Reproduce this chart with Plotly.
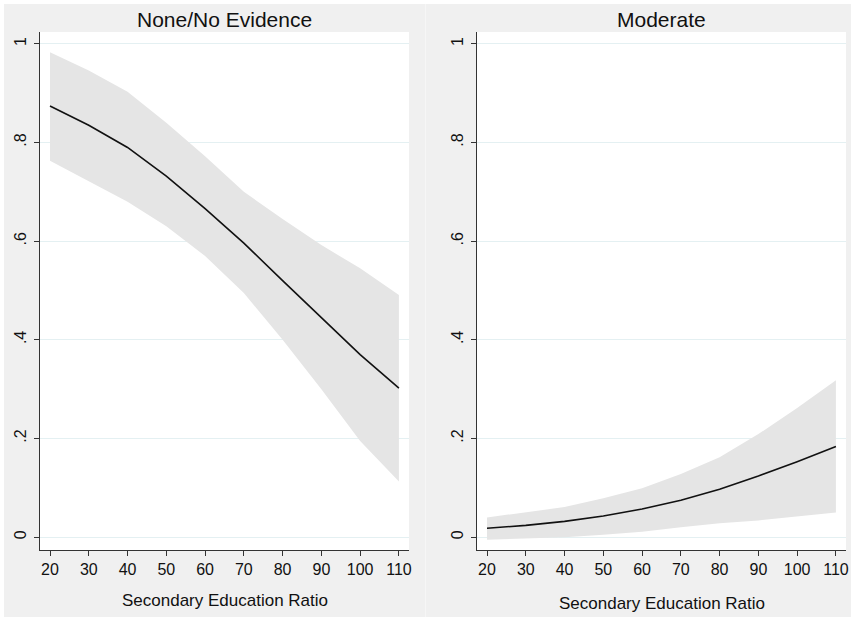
import plotly.graph_objects as go

x_vals = [20, 30, 40, 50, 60, 70, 80, 90, 100, 110]

none_mean = [0.874, 0.835, 0.790, 0.732, 0.666, 0.596, 0.520, 0.444, 0.370, 0.302]
none_upper = [0.983, 0.946, 0.903, 0.840, 0.772, 0.700, 0.645, 0.592, 0.545, 0.491]
none_lower = [0.763, 0.722, 0.680, 0.630, 0.570, 0.495, 0.400, 0.300, 0.195, 0.113]

mod_mean = [0.018, 0.024, 0.032, 0.043, 0.057, 0.075, 0.097, 0.124, 0.153, 0.184]
mod_upper = [0.040, 0.050, 0.061, 0.079, 0.099, 0.128, 0.162, 0.209, 0.262, 0.318]
mod_lower = [-0.005, -0.003, 0.000, 0.005, 0.011, 0.020, 0.028, 0.034, 0.042, 0.050]

panel_titles = ["None/No Evidence", "Moderate"]
x_title = "Secondary Education Ratio"
y_tickvals = [0, 0.2, 0.4, 0.6, 0.8, 1]
y_ticktext = ["0", ".2", ".4", ".6", ".8", "1"]
x_tickvals = [20, 30, 40, 50, 60, 70, 80, 90, 100, 110]

W, H = 851, 618
FONT = "Liberation Sans, Arial, Helvetica, sans-serif"
BAND = "#E5E5E5"
BG = "#F0F0F0"

fig = go.Figure()

for i, (m, u, l) in enumerate([(none_mean, none_upper, none_lower),
                                (mod_mean, mod_upper, mod_lower)]):
    xa = "x" if i == 0 else "x2"
    ya = "y" if i == 0 else "y2"
    fig.add_trace(go.Scatter(x=x_vals, y=u, mode="lines", line=dict(width=0, color=BAND),
                             xaxis=xa, yaxis=ya, showlegend=False, hoverinfo="skip"))
    fig.add_trace(go.Scatter(x=x_vals, y=l, mode="lines", line=dict(width=0, color=BAND),
                             fill="tonexty", fillcolor=BAND,
                             xaxis=xa, yaxis=ya, showlegend=False, hoverinfo="skip"))
    fig.add_trace(go.Scatter(x=x_vals, y=m, mode="lines", line=dict(width=1.6, color="#111111"),
                             xaxis=xa, yaxis=ya, showlegend=False))

def px_x(p):
    return p / W

def px_y(p):
    return 1 - p / H

xdoms = [[px_x(40), px_x(409)], [px_x(477), px_x(846)]]
ydom = [px_y(550), px_y(32)]

common_x = dict(
    range=[17.42, 112.6], tickvals=x_tickvals, ticks="outside", ticklen=5,
    tickcolor="#333333", tickwidth=1, showline=True, linecolor="#333333", linewidth=1,
    showgrid=False, zeroline=False, tickfont=dict(family=FONT, size=16, color="#111111"),
    automargin=False, fixedrange=True,
)
common_y = dict(
    range=[-0.026, 1.024], tickvals=y_tickvals, ticktext=y_ticktext, ticks="outside",
    ticklen=5, tickcolor="#333333", tickwidth=1, showline=True, linecolor="#333333",
    linewidth=1, showgrid=True, gridcolor="#E4F0F2", gridwidth=1, zeroline=False,
    tickangle=-90, tickfont=dict(family=FONT, size=16, color="#111111"),
    ticklabelstandoff=2, automargin=False, fixedrange=True,
)

fig.update_layout(
    width=W, height=H,
    margin=dict(l=0, r=0, t=0, b=0),
    paper_bgcolor=BG, plot_bgcolor="white",
    xaxis=dict(domain=xdoms[0], anchor="y", **common_x),
    yaxis=dict(domain=ydom, anchor="x", **common_y),
    xaxis2=dict(domain=xdoms[1], anchor="y2", **common_x),
    yaxis2=dict(domain=ydom, anchor="x2", **common_y),
    showlegend=False,
)

# thin white frame at top/left/bottom, and faint separator between the panels
for (x0, x1, y0, y1) in [(0, W, 0, 4), (0, 4, 0, H), (0, W, 617, H)]:
    fig.add_shape(type="rect", xref="paper", yref="paper", layer="below",
                  x0=px_x(x0), x1=px_x(x1), y0=px_y(y1), y1=px_y(y0),
                  fillcolor="white", line=dict(width=0))
fig.add_shape(type="line", xref="paper", yref="paper", layer="below",
              x0=px_x(425.5), x1=px_x(425.5), y0=px_y(617), y1=px_y(4),
              line=dict(color="#F6F6F6", width=1))

for i, t in enumerate(panel_titles):
    cx = (xdoms[i][0] + xdoms[i][1]) / 2
    fig.add_annotation(text=t, x=cx, y=px_y(19), xref="paper", yref="paper",
                       showarrow=False, xanchor="center", yanchor="middle",
                       font=dict(family=FONT, size=21, color="#111111"))
    fig.add_annotation(text=x_title, x=cx, y=px_y(600 + i * 3), xref="paper", yref="paper",
                       showarrow=False, xanchor="center", yanchor="middle",
                       font=dict(family=FONT, size=17, color="#111111"))

fig.write_html("out.html", config={"displayModeBar": False},
               post_script="document.body.style.margin='0';")
